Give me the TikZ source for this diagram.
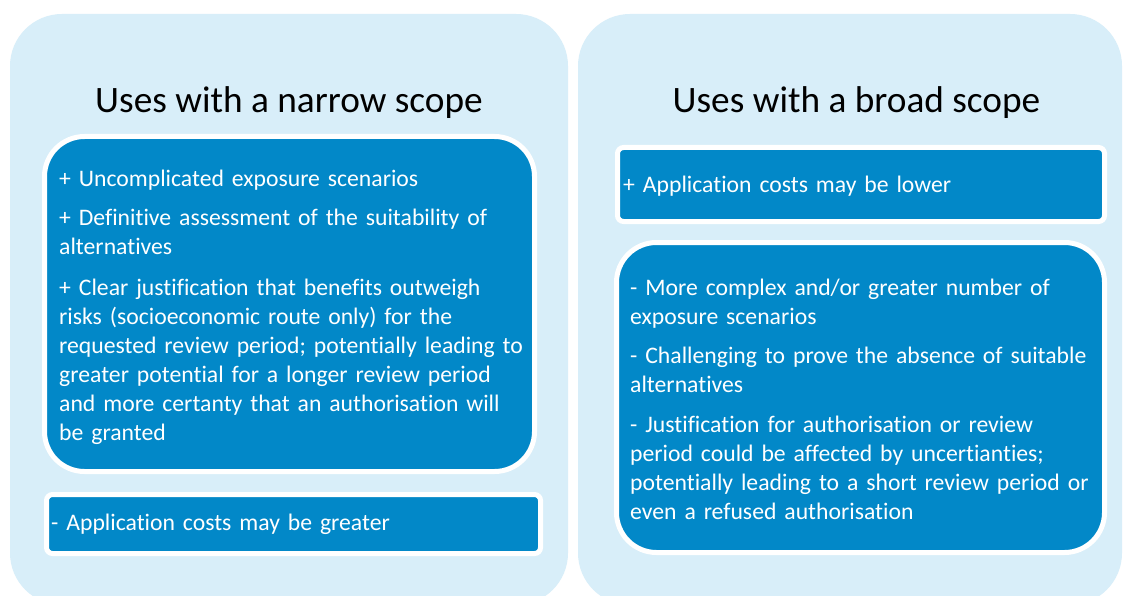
\documentclass[tikz,border=0pt]{standalone}
\usepackage{fontspec}
\setmainfont{Carlito}[Ligatures=NoCommon]
\definecolor{panelbg}{HTML}{D8EEF9}
\definecolor{boxbg}{HTML}{0288C8}
\begin{document}
\begin{tikzpicture}[x=1pt,y=-1pt,
  panel/.style={fill=panelbg, draw=none, rounded corners=52pt, inner sep=0pt},
  bigbox/.style={fill=boxbg, draw=white, line width=5pt, rounded corners=40pt, inner sep=0pt},
  smallbox/.style={fill=boxbg, draw=white, line width=5pt, rounded corners=6pt, inner sep=0pt},
  title/.style={font=\fontsize{37.3}{44}\selectfont, text=black, inner sep=0pt, anchor=base},
  body/.style={font=\fontsize{23.7}{29}\selectfont, text=white, align=left, text width=520pt, inner sep=0pt, anchor=base west}]
\clip (0,0) rectangle (1123,596);
\fill[white] (0,0) rectangle (1123,596);
% panels
\node[panel, minimum width=558pt, minimum height=591pt] (pl) at (289,309.5) {};
\node[panel, minimum width=544pt, minimum height=591pt] (pr) at (850,309.5) {};
% titles
\node[title] (tl) at (289,113) {Uses with a narrow scope};
\node[title] (tr) at (856.5,113) {Uses with a broad scope};
% boxes
\node[bigbox, minimum width=490pt, minimum height=335pt] (lb1) at (289.5,304) {};
\node[smallbox, minimum width=494pt, minimum height=59pt] (lb2) at (293.5,524) {};
\node[smallbox, minimum width=487pt, minimum height=74pt] (rb1) at (861,184.5) {};
\node[bigbox, minimum width=488pt, minimum height=310pt] (rb2) at (860.5,397.5) {};
% texts
\node[body] (lt1) at (59,186) {+ Uncomplicated exposure scenarios\\[10.5pt]
+ Definitive assessment of the suitability of\\alternatives\\[12pt]
+ Clear justification that benefits outweigh\\risks (socioeconomic route only) for the\\requested review period; potentially leading to\\greater potential for a longer review period\\and more certanty that an authorisation will\\be granted};
\node[body] (lt2) at (51,530) {- Application costs may be greater};
\node[body] (rt1) at (623,192) {+ Application costs may be lower};
\node[body] (rt2) at (630,295) {- More complex and/or greater number of\\exposure scenarios\\[10.5pt]
- Challenging to prove the absence of suitable\\alternatives\\[11pt]
- Justification for authorisation or review\\period could be affected by uncertianties;\\potentially leading to a short review period or\\even a refused authorisation};
\end{tikzpicture}
\end{document}
